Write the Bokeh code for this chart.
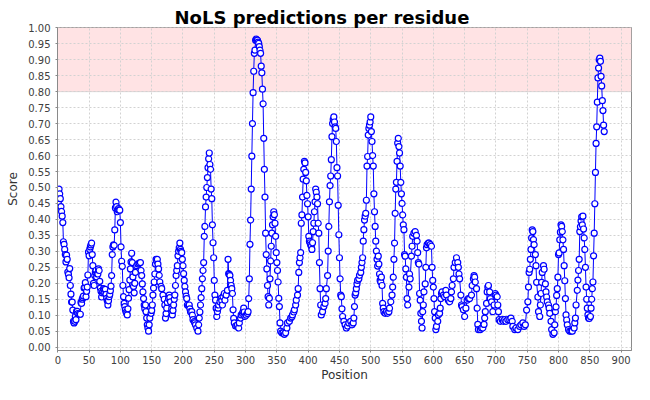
from bokeh.plotting import figure
from bokeh.models import Range1d, FixedTicker, NumeralTickFormatter, BoxAnnotation, ColumnDataSource
from bokeh.embed import file_html
from bokeh.resources import INLINE

# ---- data (residue position, NoLS score) ----
pos_a = [1, 2, 3, 4, 5, 6, 7, 8, 9, 10,
         11, 12, 13, 14, 15, 16, 17, 18, 19, 20,
         21, 22, 23, 24, 25, 26, 27, 28, 29, 30,
         31, 32, 34,
         36, 37, 38, 39, 40, 41, 42, 43, 44, 45,
         46, 47, 48, 49, 50, 51, 52, 53, 54, 55,
         56, 57, 58, 59, 60, 61, 62, 63, 64, 65,
         66, 67, 68, 69, 70, 71, 72, 73, 74, 75,
         76, 77, 78, 79, 80, 81, 82, 83, 84, 85,
         86, 87, 88, 89, 90, 91, 92, 93, 94, 95,
         96, 97, 98, 99, 100, 101, 102, 103, 104, 105,
         106, 107, 108, 109]
score_a = [0.45, 0.495, 0.48, 0.465, 0.44, 0.425, 0.41, 0.39, 0.33, 0.322,
           0.306, 0.29, 0.267, 0.288, 0.275, 0.235, 0.228, 0.217, 0.246, 0.193,
           0.166, 0.141, 0.141, 0.116, 0.081, 0.076, 0.081, 0.096, 0.086, 0.112,
           0.112, 0.105, 0.103,
           0.103, 0.14, 0.137, 0.15, 0.155, 0.16, 0.185, 0.187, 0.202, 0.158,
           0.175, 0.188, 0.226, 0.298, 0.286, 0.306, 0.314, 0.32, 0.326, 0.29,
           0.255, 0.2, 0.193, 0.224, 0.235, 0.24, 0.22, 0.23, 0.229, 0.245,
           0.24, 0.206, 0.185, 0.175, 0.157, 0.17, 0.175, 0.183, 0.18, 0.17,
           0.181, 0.165, 0.153, 0.145, 0.132, 0.145, 0.158, 0.165, 0.177, 0.191,
           0.224, 0.29, 0.314, 0.32, 0.319, 0.367, 0.436, 0.454, 0.44, 0.424,
           0.43, 0.434, 0.43, 0.429, 0.39, 0.314, 0.269, 0.253, 0.193, 0.158,
           0.137, 0.127, 0.117, 0.11]

pos_b = [110, 111, 112, 113, 114, 115, 116, 117, 118, 119, 120, 121, 122, 123, 124,
         126, 128, 130, 132,
         133, 134, 135, 136, 137, 138, 139, 140, 141, 142, 143, 144, 145, 146, 147,
         149, 150, 151, 152, 153, 154, 155, 156, 157, 158, 159, 160, 161, 162, 163,
         165, 166, 168,
         170, 171, 172, 173, 174, 175,
         177, 178, 179, 180,
         182, 183, 184, 185, 186, 187, 188, 189, 190, 191, 192, 193, 194,
         195, 196, 197, 198, 199, 200, 201, 202, 203, 204, 205, 206, 207,
         209, 210, 211, 212, 214, 215, 216, 218, 219, 220, 222,
         224, 225, 226, 227, 228, 229, 230, 231, 232, 233, 234, 235, 236, 237]
score_b = [0.106, 0.101, 0.12, 0.153, 0.18, 0.21, 0.245, 0.267, 0.294, 0.265, 0.22, 0.19, 0.17, 0.2, 0.234,
           0.255, 0.26, 0.263, 0.265,
           0.24, 0.224, 0.198, 0.173, 0.152, 0.132, 0.12, 0.132, 0.111, 0.091, 0.07, 0.06, 0.05, 0.07, 0.091,
           0.106, 0.115, 0.132, 0.163, 0.185, 0.204, 0.229, 0.26, 0.275, 0.27, 0.275, 0.26, 0.245, 0.225, 0.204,
           0.19, 0.183, 0.163,
           0.15, 0.132, 0.091, 0.105, 0.122, 0.14,
           0.152, 0.163, 0.155, 0.142,
           0.12, 0.101, 0.115, 0.132, 0.15, 0.163, 0.193, 0.224, 0.24, 0.255, 0.286, 0.3, 0.311,
           0.326, 0.306, 0.3, 0.296, 0.275, 0.255, 0.23, 0.209, 0.19, 0.173, 0.16, 0.152, 0.132,
           0.13, 0.132, 0.12, 0.111, 0.111, 0.1, 0.086, 0.08, 0.076, 0.07, 0.06,
           0.05, 0.07, 0.091, 0.11, 0.132, 0.155, 0.183, 0.214, 0.24, 0.265, 0.347, 0.378, 0.439, 0.47]

pos_c = [238, 239, 240, 241, 242, 243, 244, 245, 246, 247, 248, 249, 250, 251, 252, 253, 254, 255, 256, 257,
         259, 261, 262, 263, 264, 266, 267, 269, 271, 272, 273, 274, 275, 276, 277, 278, 279, 280, 281, 282,
         284, 286, 287, 289, 290, 292, 293, 295, 296, 297, 298, 299, 301, 303, 304, 305, 306, 307, 308, 309,
         310, 311, 312, 313, 314, 315, 316, 317, 318, 319, 320, 321, 322, 323, 324, 325, 326, 327, 328, 329,
         330, 331, 332, 333, 334, 335, 336, 337, 338, 339, 340, 341, 342, 343, 344, 345, 346, 347, 348, 349,
         350, 351, 352, 353, 354, 355]
score_c = [0.5, 0.531, 0.562, 0.59, 0.608, 0.572, 0.557, 0.495, 0.465, 0.383, 0.327, 0.28, 0.209, 0.163, 0.147, 0.122, 0.096, 0.111, 0.122, 0.132,
           0.142, 0.153, 0.145, 0.132, 0.158, 0.168, 0.147, 0.163, 0.178, 0.275, 0.23, 0.228, 0.224, 0.209, 0.193, 0.183, 0.168, 0.117, 0.09, 0.076,
           0.066, 0.066, 0.07, 0.06, 0.076, 0.091, 0.101, 0.105, 0.111, 0.122, 0.11, 0.096, 0.1, 0.105, 0.111, 0.152, 0.214, 0.322, 0.398, 0.495,
           0.598, 0.7, 0.797, 0.864, 0.92, 0.93, 0.961, 0.965, 0.962, 0.961, 0.955, 0.951, 0.941, 0.93, 0.92, 0.88, 0.859, 0.808, 0.762, 0.654,
           0.557, 0.47, 0.357, 0.29, 0.245, 0.193, 0.158, 0.132, 0.153, 0.214, 0.27, 0.316, 0.357, 0.383, 0.408, 0.424, 0.415, 0.388, 0.347, 0.296,
           0.265, 0.24, 0.204, 0.153, 0.127, 0.076]

pos_d = [356, 358, 360, 362, 364, 366, 367, 370, 372, 374, 375, 377, 378, 380, 381, 383, 384, 385, 386, 387,
         388, 389, 390, 391, 392, 393, 394, 395, 396, 397, 398, 399, 400, 401, 402, 403, 404, 405, 406, 407,
         408, 409, 410, 411, 412, 413, 414, 415, 416, 417, 418, 419, 420, 421, 423, 425, 427, 428, 429, 431,
         432, 433, 434, 435, 436, 437, 438, 439, 440, 441, 442, 443, 444, 445, 446, 447, 448, 449, 450, 451,
         452, 453, 454, 455, 457, 459, 461, 463, 465, 468, 470, 472, 473, 474, 475]
score_d = [0.05, 0.045, 0.045, 0.04, 0.045, 0.06, 0.076, 0.081, 0.091, 0.095, 0.101, 0.11, 0.117, 0.132, 0.147, 0.163, 0.183, 0.234, 0.265, 0.28,
           0.296, 0.388, 0.414, 0.47, 0.526, 0.557, 0.582, 0.577, 0.547, 0.521, 0.475, 0.449, 0.408, 0.347, 0.332, 0.327, 0.321, 0.316, 0.306, 0.327,
           0.362, 0.388, 0.424, 0.455, 0.495, 0.485, 0.47, 0.449, 0.388, 0.357, 0.265, 0.183, 0.132, 0.101, 0.111, 0.127, 0.137, 0.152, 0.183, 0.224,
           0.301, 0.378, 0.455, 0.506, 0.536, 0.587, 0.659, 0.7, 0.713, 0.721, 0.705, 0.69, 0.685, 0.644, 0.562, 0.536, 0.444, 0.352, 0.28, 0.214,
           0.163, 0.158, 0.12, 0.096, 0.081, 0.07, 0.06, 0.066, 0.076, 0.081, 0.07, 0.076, 0.091, 0.127, 0.163]

pos_e = [476, 477, 478, 479, 481, 482, 484, 485, 486, 487, 488, 489, 490, 491, 492, 493, 494, 495, 496, 497,
         498, 499, 500, 501, 502, 503, 504, 505, 506, 507, 508, 509, 510, 511, 512, 513, 514, 515, 516, 517,
         518, 519, 520, 521, 523, 525, 527, 529, 530, 532, 534, 535, 536, 537, 538, 539, 540, 541, 542, 543,
         544, 545, 546, 547, 548, 549, 550, 551, 552, 553, 554, 555, 556, 557, 558, 559, 561, 562, 563, 565,
         566, 567, 569, 571, 573, 574, 575, 576, 577, 578, 579, 580, 581, 582, 583, 584, 585, 587, 588, 589,
         590, 592]
score_e = [0.17, 0.183, 0.198, 0.209, 0.214, 0.225, 0.234, 0.25, 0.265, 0.28, 0.332, 0.368, 0.398, 0.41, 0.419, 0.46, 0.567, 0.597, 0.664, 0.685,
           0.695, 0.705, 0.721, 0.675, 0.644, 0.6, 0.567, 0.48, 0.424, 0.378, 0.332, 0.301, 0.275, 0.254, 0.285, 0.26, 0.229, 0.209, 0.204, 0.219,
           0.193, 0.137, 0.122, 0.111, 0.106, 0.111, 0.106, 0.111, 0.122, 0.142, 0.163, 0.188, 0.219, 0.275, 0.326, 0.419, 0.495, 0.516, 0.582, 0.639,
           0.654, 0.628, 0.608, 0.567, 0.516, 0.48, 0.45, 0.414, 0.383, 0.368, 0.29, 0.285, 0.245, 0.219, 0.152, 0.132, 0.188, 0.229, 0.214, 0.285,
           0.316, 0.347, 0.357, 0.362, 0.35, 0.332, 0.296, 0.265, 0.26, 0.168, 0.147, 0.106, 0.081, 0.06, 0.111, 0.132, 0.173, 0.198, 0.25, 0.311,
           0.321, 0.326]

pos_f = [593, 595, 597, 598, 599, 600, 601, 602, 603, 604, 605, 607, 608, 610, 611, 612, 613, 614, 616, 618,
         620, 621, 624, 626, 628, 629, 630, 632, 633, 635, 637, 639, 640, 641, 642, 644, 645, 646, 648, 650,
         652, 654, 656, 658, 661, 662, 664, 665, 666, 667, 669, 670, 671, 672, 675, 677, 679, 681, 682, 683,
         685, 686, 687, 688, 690, 691, 693, 695, 697, 699, 700, 702, 703, 704, 705, 707, 710, 712, 714]
score_f = [0.326, 0.321, 0.316, 0.25, 0.209, 0.188, 0.152, 0.111, 0.091, 0.055, 0.065, 0.081, 0.101, 0.106, 0.122, 0.152, 0.168, 0.173, 0.163, 0.158,
           0.178, 0.163, 0.147, 0.142, 0.152, 0.173, 0.193, 0.214, 0.25, 0.265, 0.28, 0.265, 0.25, 0.229, 0.214, 0.163, 0.132, 0.127, 0.117, 0.096,
           0.122, 0.147, 0.152, 0.152, 0.163, 0.193, 0.214, 0.224, 0.219, 0.204, 0.183, 0.122, 0.071, 0.055, 0.055, 0.06, 0.06, 0.071, 0.091, 0.111,
           0.137, 0.173, 0.188, 0.193, 0.173, 0.152, 0.142, 0.111, 0.132, 0.168, 0.163, 0.158, 0.132, 0.111, 0.086, 0.081, 0.086, 0.081, 0.086]

pos_g = [716, 719, 722, 724, 726, 727, 730, 732, 735, 738, 740, 743, 745, 747, 749, 751, 752, 753, 754, 755,
         756, 757, 758, 759, 760, 761, 763, 764, 765, 767, 768, 770, 771, 772, 773, 774, 776, 777, 779, 780,
         781, 782, 784, 785, 786, 788, 789, 791, 793, 794, 795, 796, 797, 798, 799, 800, 801, 802, 803, 804,
         805, 806, 807, 808, 809, 810, 811, 812, 813, 814, 816, 818]
score_g = [0.081, 0.086, 0.086, 0.091, 0.081, 0.065, 0.055, 0.06, 0.055, 0.065, 0.07, 0.076, 0.065, 0.07, 0.116, 0.142, 0.188, 0.234, 0.244, 0.275,
           0.306, 0.342, 0.367, 0.362, 0.337, 0.321, 0.29, 0.255, 0.203, 0.157, 0.111, 0.096, 0.132, 0.168, 0.203, 0.234, 0.255, 0.244, 0.198, 0.173,
           0.157, 0.142, 0.132, 0.122, 0.106, 0.081, 0.055, 0.04, 0.045, 0.07, 0.111, 0.126, 0.162, 0.183, 0.219, 0.29, 0.295, 0.336, 0.36, 0.383,
           0.378, 0.362, 0.336, 0.306, 0.255, 0.208, 0.152, 0.101, 0.085, 0.07, 0.055, 0.05]

pos_h = [820, 822, 825, 826, 827, 828, 830, 831, 832, 833, 834, 835, 836, 837, 838, 839, 840, 841, 842, 843,
         844, 845, 846, 847, 848, 849, 851, 852, 853, 854, 855, 856, 857, 858, 859, 860, 861, 862, 863, 864,
         865, 866, 867, 868, 869, 870, 871, 872, 873]
score_h = [0.05, 0.05, 0.06, 0.076, 0.091, 0.132, 0.178, 0.21, 0.24, 0.275, 0.362, 0.377, 0.395, 0.408, 0.383, 0.41, 0.37, 0.342, 0.306, 0.25,
           0.188, 0.15, 0.122, 0.101, 0.091, 0.09, 0.096, 0.122, 0.15, 0.183, 0.204, 0.286, 0.357, 0.449, 0.547, 0.638, 0.69, 0.767, 0.843, 0.874,
           0.9, 0.905, 0.895, 0.848, 0.818, 0.772, 0.741, 0.695, 0.675]

x_ticks = [0, 50, 100, 150, 200, 250, 300, 350, 400, 450, 500, 550, 600, 650, 700, 750, 800, 850, 900]
y_ticks = [0.0, 0.05, 0.1, 0.15, 0.2, 0.25, 0.3, 0.35, 0.4, 0.45, 0.5,
           0.55, 0.6, 0.65, 0.7, 0.75, 0.8, 0.85, 0.9, 0.95, 1.0]
threshold = 0.8

pos_groups = [pos_a, pos_b, pos_c, pos_d, pos_e, pos_f, pos_g, pos_h]
score_groups = [score_a, score_b, score_c, score_d, score_e, score_f, score_g, score_h]
positions, scores = [], []
for pg, sg in zip(pos_groups, score_groups):
    if len(pg) != len(sg):
        raise ValueError(f"length mismatch {len(pg)} vs {len(sg)} starting at {pg[0]}")
    positions += pg
    scores += sg

src = ColumnDataSource(dict(position=positions, score=scores))

FONT = "DejaVu Sans"

p = figure(width=634, height=384, output_backend="svg", toolbar_location=None,
           x_range=Range1d(-0.5, 916.6), y_range=Range1d(-0.0105, 1.001),
           min_border_left=57, min_border_right=3, min_border_top=27, min_border_bottom=32,
           title="NoLS predictions per residue")

p.background_fill_color = "white"
p.border_fill_color = "white"
p.outline_line_color = "#8a8a8a"
p.outline_line_width = 1

p.title.text_font = FONT
p.title.text_font_size = "18px"
p.title.text_font_style = "bold"
p.title.text_color = "black"
p.title.align = "left"
p.title.offset = 117
p.title.standoff = 0

band = BoxAnnotation(bottom=threshold, fill_color="#FFE3E4", fill_alpha=1.0,
                     line_color="#9a9a9a", line_width=1, level="image")
p.add_layout(band)

for g in (p.xgrid, p.ygrid):
    g.grid_line_color = "#d2d2d2"
    g.grid_line_dash = "2 2"
    g.grid_line_width = 1

p.xaxis.ticker = FixedTicker(ticks=x_ticks)
p.yaxis.ticker = FixedTicker(ticks=y_ticks)
p.yaxis.formatter = NumeralTickFormatter(format="0.00")

for ax in (p.xaxis, p.yaxis):
    ax.axis_line_color = "#8a8a8a"
    ax.major_tick_line_color = "#8a8a8a"
    ax.major_tick_out = 2
    ax.major_tick_in = 0
    ax.minor_tick_out = 0
    ax.minor_tick_in = 0
    ax.major_label_text_font = FONT
    ax.major_label_text_font_size = "10px"
    ax.major_label_text_color = "#404040"
    ax.axis_label_text_font = FONT
    ax.axis_label_text_font_size = "12px"
    ax.axis_label_text_font_style = "normal"
    ax.axis_label_text_color = "#333333"

p.xaxis.axis_label = "Position"
p.yaxis.axis_label = "Score"
p.xaxis.major_label_standoff = 3
p.xaxis.axis_label_standoff = 1
p.yaxis.major_label_standoff = 5
p.yaxis.axis_label_standoff = 5

p.line("position", "score", source=src, line_color="#0000FF", line_width=1)
p.scatter("position", "score", source=src, marker="circle", size=6,
          fill_color="white", line_color="#0000FF", line_width=1.2)

open("out.html", "w").write(file_html(p, INLINE))
